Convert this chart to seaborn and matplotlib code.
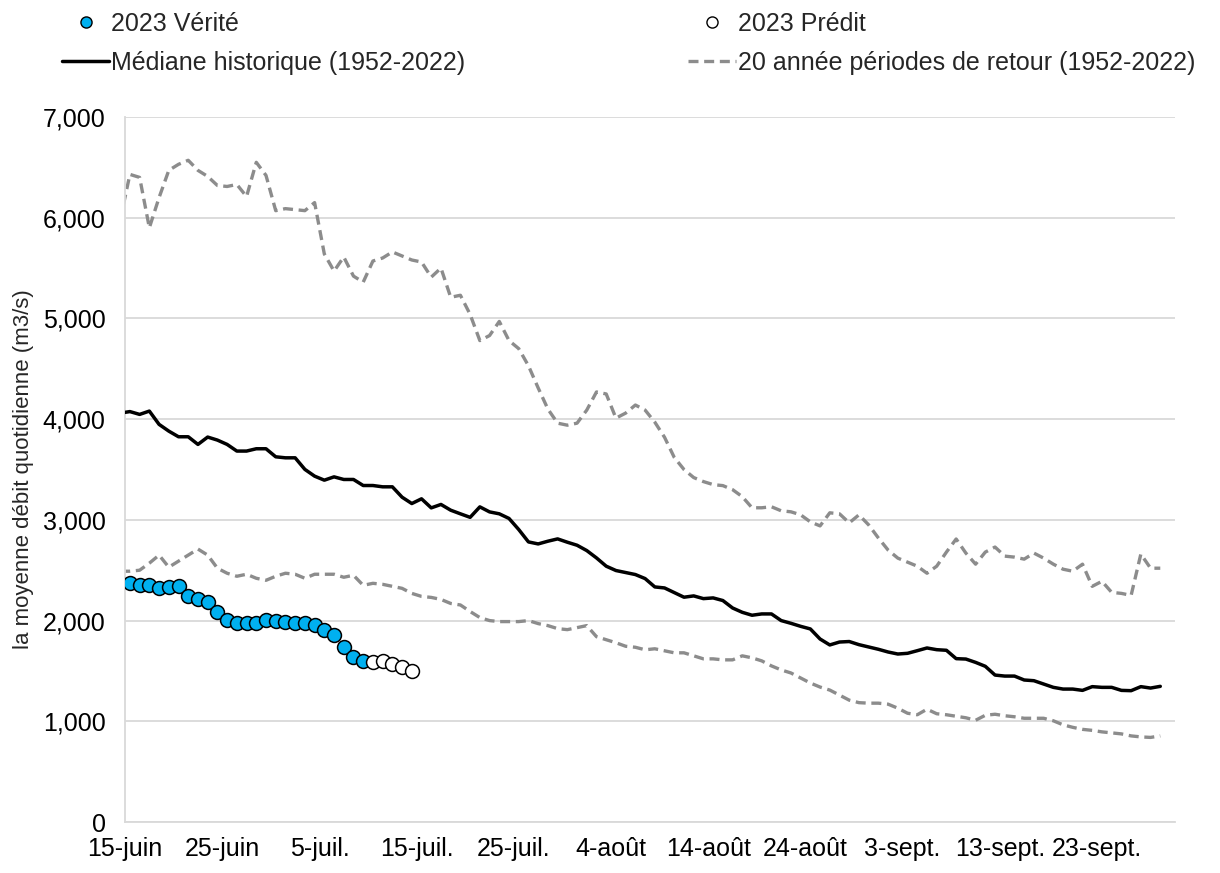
import matplotlib
matplotlib.use('Agg')
import matplotlib.pyplot as plt
import matplotlib.ticker as mticker
from matplotlib.lines import Line2D
import seaborn as sns
import pandas as pd

# daily values, Jun 14 .. Sep 29 (plotted at noon of each day)
median_hist = [4060, 4075, 4047, 4080, 3948, 3881, 3825, 3825, 3749, 3822,
               3792, 3749, 3683, 3683, 3706, 3706, 3626, 3616, 3616, 3501,
               3434, 3394, 3427, 3401, 3401, 3341, 3341, 3328, 3328, 3225,
               3162, 3209, 3119, 3153, 3096, 3060, 3025, 3129, 3079, 3060,
               3014, 2904, 2781, 2761, 2788, 2811, 2778, 2748, 2695, 2622,
               2540, 2497, 2477, 2457, 2417, 2334, 2324, 2278, 2232, 2245,
               2218, 2225, 2199, 2125, 2082, 2053, 2066, 2066, 2000, 1973,
               1943, 1917, 1817, 1758, 1787, 1792, 1761, 1738, 1715, 1688,
               1668, 1675, 1701, 1728, 1711, 1705, 1622, 1618, 1585, 1546,
               1459, 1449, 1449, 1410, 1403, 1370, 1337, 1320, 1320, 1307,
               1344, 1337, 1337, 1307, 1304, 1344, 1330, 1347]
retour_haut = [5980, 6430, 6400, 5900, 6200, 6470, 6530, 6570, 6470, 6410,
               6320, 6310, 6330, 6210, 6550, 6420, 6070, 6090, 6080, 6070,
               6150, 5640, 5470, 5610, 5420, 5360, 5570, 5600, 5660, 5620,
               5580, 5560, 5410, 5500, 5210, 5230, 5040, 4780, 4830, 4970,
               4780, 4700, 4530, 4310, 4100, 3960, 3940, 3960, 4090, 4270,
               4250, 4010, 4060, 4140, 4090, 3970, 3820, 3620, 3500, 3420,
               3380, 3350, 3340, 3300, 3230, 3120, 3120, 3130, 3090, 3080,
               3050, 2980, 2940, 3070, 3060, 2970, 3050, 2950, 2820, 2700,
               2620, 2580, 2540, 2470, 2540, 2680, 2810, 2670, 2560, 2680,
               2730, 2640, 2630, 2610, 2670, 2620, 2560, 2510, 2490, 2560,
               2340, 2390, 2280, 2270, 2250, 2660, 2520, 2520]
retour_bas = [2490, 2490, 2500, 2570, 2650, 2530, 2590, 2650, 2710, 2650,
              2520, 2470, 2440, 2460, 2420, 2400, 2440, 2470, 2460, 2420,
              2460, 2460, 2460, 2430, 2450, 2350, 2370, 2360, 2340, 2320,
              2270, 2240, 2230, 2210, 2170, 2155, 2090, 2030, 2000, 1990,
              1990, 1990, 2000, 1970, 1950, 1920, 1910, 1930, 1950, 1840,
              1810, 1780, 1745, 1735, 1710, 1720, 1700, 1680, 1680, 1650,
              1620, 1620, 1610, 1610, 1650, 1630, 1600, 1550, 1510, 1480,
              1430, 1380, 1340, 1310, 1260, 1210, 1185, 1180, 1180, 1170,
              1130, 1080, 1065, 1120, 1075, 1065, 1050, 1035, 1010, 1060,
              1070, 1055, 1045, 1030, 1030, 1030, 1005, 965, 940, 920,
              910, 895, 885, 875, 855, 845, 840, 855]

# 2023 observed (Jun 15 .. Jul 9) and predicted (Jul 10 .. Jul 14)
verite_2023 = [2374, 2351, 2351, 2324, 2331, 2341, 2248, 2218, 2185, 2086,
               2003, 1973, 1973, 1980, 2010, 2000, 1990, 1980, 1973, 1953,
               1910, 1854, 1735, 1638, 1595]
predit_2023 = [1588, 1595, 1572, 1539, 1503]

mois = {6: 'juin', 7: 'juil.', 8: 'août', 9: 'sept.'}

hist = pd.DataFrame({
    'date': pd.date_range('2023-06-14 12:00', periods=len(median_hist), freq='D'),
    'median': median_hist, 'haut': retour_haut, 'bas': retour_bas})
obs = pd.DataFrame({
    'date': pd.date_range('2023-06-15 12:00', periods=len(verite_2023), freq='D'),
    'debit': verite_2023})
pred = pd.DataFrame({
    'date': pd.date_range(obs['date'].iloc[-1] + pd.Timedelta(days=1),
                          periods=len(predit_2023), freq='D'),
    'debit': predit_2023})

sns.set_style('white')
plt.rcParams['font.family'] = ['Liberation Sans', 'DejaVu Sans']

fig, ax = plt.subplots(figsize=(12.2, 8.73), dpi=100)
fig.subplots_adjust(left=0.1025, right=0.963, top=0.866, bottom=0.0584)

grey = '#8c8c8c'
dash = (3, 1.7)
sns.lineplot(data=hist, x='date', y='haut', ax=ax, color=grey, lw=2.4,
             zorder=2).lines[-1].set_dashes(dash)
sns.lineplot(data=hist, x='date', y='bas', ax=ax, color=grey, lw=2.4,
             zorder=2).lines[-1].set_dashes(dash)
sns.lineplot(data=hist, x='date', y='median', ax=ax, color='black', lw=2.5, zorder=3)
sns.scatterplot(data=obs, x='date', y='debit', ax=ax, color='#00b0f0',
                edgecolor='black', linewidth=1.1, s=100, zorder=4)
sns.scatterplot(data=pred, x='date', y='debit', ax=ax, color='white',
                edgecolor='black', linewidth=1.1, s=100, zorder=4)

ax.set_xlim(pd.Timestamp('2023-06-15'), pd.Timestamp('2023-10-01'))
ax.set_ylim(0, 7000)
ax.set_yticks(range(0, 7001, 1000))
ax.yaxis.set_major_formatter(mticker.StrMethodFormatter('{x:,.0f}'))
ticks = pd.date_range('2023-06-15', '2023-09-30', freq='10D')
ax.set_xticks(ticks)
ax.set_xticklabels([f'{d.day}-{mois[d.month]}' for d in ticks])

ax.grid(axis='y', color='#d9d9d9', lw=1.3)
ax.set_axisbelow(True)
for s in ['top', 'right']:
    ax.spines[s].set_visible(False)
for s in ['left', 'bottom']:
    ax.spines[s].set_color('#d9d9d9')
    ax.spines[s].set_linewidth(1.3)
ax.tick_params(axis='x', length=7, width=1.3, color='#d9d9d9', pad=4,
               labelsize=18, labelcolor='black')
ax.tick_params(axis='y', length=0, pad=14, labelsize=18, labelcolor='black')
ax.set_xlabel('')
ax.set_ylabel('la moyenne débit quotidienne (m3/s)', fontsize=16, labelpad=6)

handles = [
    Line2D([], [], ls='none', marker='o', ms=8, mfc='#00b0f0', mec='black'),
    Line2D([], [], color='black', lw=2.5),
    Line2D([], [], ls='none', marker='o', ms=8, mfc='white', mec='black'),
    Line2D([], [], color=grey, lw=2.4, dashes=dash),
]
labels = ['2023 Vérité', 'Médiane historique (1952-2022)',
          '2023 Prédit', '20 année périodes de retour (1952-2022)']
fig.legend(handles, labels, ncol=2, loc='upper left', bbox_to_anchor=(0.0508, 0.986),
           frameon=False, fontsize=18, handlelength=1.9, handletextpad=0.08,
           columnspacing=8.9, labelspacing=0.6, borderpad=0, borderaxespad=0)

fig.savefig('out.png', dpi=100)
